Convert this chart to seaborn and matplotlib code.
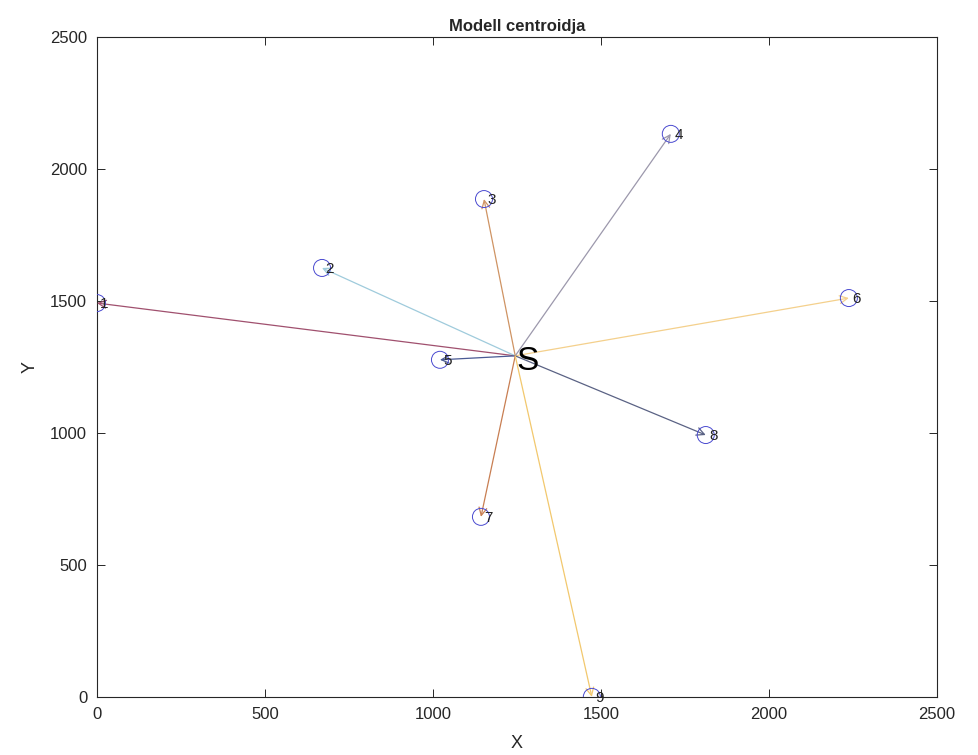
import numpy as np
import pandas as pd
import matplotlib
matplotlib.use("Agg")
import matplotlib.pyplot as plt
import seaborn as sns

# points
labels = ["1", "2", "3", "4", "5", "6", "7", "8", "9"]
xs = [0, 670, 1152, 1708, 1021, 2238, 1143, 1812, 1473]
ys = [1492, 1625, 1886, 2133, 1277, 1511, 682, 992, 0]

# centroid
cx, cy = 1245, 1292

arrow_colors = [
    "#a0506e",  # 1
    "#9fcbdc",  # 2
    "#cf9464",  # 3
    "#9c98ac",  # 4
    "#4a5a94",  # 5
    "#f4d08c",  # 6
    "#c87e52",  # 7
    "#5a6284",  # 8
    "#f2c86e",  # 9
]

df = pd.DataFrame({"X": xs, "Y": ys, "label": labels})

sns.set_style("white")
plt.rcParams["font.family"] = ["Liberation Sans", "DejaVu Sans"]

fig = plt.figure(figsize=(9.79, 7.55), dpi=100)
ax = fig.add_axes([0.099, 0.077, 0.858, 0.874])

# arrows from the centroid to every point
for (x, y, c) in zip(xs, ys, arrow_colors):
    ax.annotate(
        "",
        xy=(x, y),
        xytext=(cx, cy),
        arrowprops=dict(arrowstyle="->", color=c, lw=0.9, shrinkA=0, shrinkB=0,
                        mutation_scale=14),
    )

sns.scatterplot(
    data=df, x="X", y="Y", ax=ax, marker="o", s=150,
    facecolors="none", edgecolor="#4a4ad0", linewidth=0.7, zorder=3,
)

for x, y, lab in zip(xs, ys, labels):
    ax.text(x + 10, y - 5, lab, fontsize=11, ha="left", va="center", color="#222222", zorder=4)

ax.text(cx + 5, cy - 20, "S", fontsize=24, ha="left", va="center", color="black", zorder=4)

ax.set_xlim(0, 2500)
ax.set_ylim(0, 2500)
ax.set_xticks(np.arange(0, 2501, 500))
ax.set_yticks(np.arange(0, 2501, 500))
ax.tick_params(direction="in", length=6, width=0.7, labelsize=12, colors="#262626",
               bottom=True, left=True, top=True, right=True, pad=7)
for sp in ax.spines.values():
    sp.set_color("#262626")
    sp.set_linewidth(0.8)
ax.set_xlabel("X", fontsize=13, labelpad=10)
ax.set_ylabel("Y", fontsize=13, labelpad=8)
ax.set_title("Modell centroidja", fontsize=12, fontweight="bold", pad=4)

fig.savefig("out.png", dpi=100)
